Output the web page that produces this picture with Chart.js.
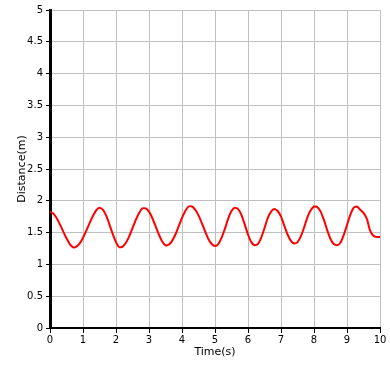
<!DOCTYPE html>
<html>
<head>
<meta charset="utf-8">
<script src="https://cdn.jsdelivr.net/npm/chart.js@4/dist/chart.umd.min.js"></script>
<style>
html,body{margin:0;padding:0;background:#fff;}
#wrap{width:390px;height:368px;}
</style>
</head>
<body>
<div id="wrap"><canvas id="c" width="390" height="368"></canvas></div>
<script>
const timeS = [0,0.1,0.2,0.3,0.4,0.5,0.6,0.7,0.8,0.9,1.0,1.1,1.2,1.3,1.4,1.5,1.6,1.7,1.8,1.9,2.0,2.1,2.2,2.3,2.4,2.5,2.6,2.7,2.8,2.9,3.0,3.1,3.2,3.3,3.4,3.5,3.6,3.7,3.8,3.9,4.0,4.1,4.2,4.3,4.4,4.5,4.6,4.7,4.8,4.9,5.0,5.1,5.2,5.3,5.4,5.5,5.6,5.7,5.8,5.9,6.0,6.1,6.2,6.3,6.4,6.5,6.6,6.7,6.8,6.9,7.0,7.1,7.2,7.3,7.4,7.5,7.6,7.7,7.8,7.9,8.0,8.1,8.2,8.3,8.4,8.5,8.6,8.7,8.8,8.9,9.0,9.1,9.2,9.3,9.4,9.5,9.6,9.7,9.8,9.9,10.0];
const distanceM = [1.83,1.80,1.73,1.63,1.52,1.41,1.32,1.27,1.28,1.33,1.42,1.53,1.65,1.76,1.85,1.89,1.86,1.77,1.63,1.48,1.35,1.27,1.28,1.34,1.44,1.57,1.70,1.81,1.88,1.88,1.83,1.73,1.60,1.47,1.36,1.30,1.31,1.37,1.47,1.60,1.73,1.84,1.91,1.91,1.86,1.77,1.65,1.52,1.40,1.32,1.29,1.32,1.42,1.56,1.72,1.84,1.89,1.87,1.78,1.63,1.47,1.35,1.30,1.32,1.42,1.57,1.73,1.83,1.87,1.84,1.75,1.61,1.47,1.37,1.33,1.35,1.44,1.58,1.74,1.85,1.91,1.90,1.83,1.70,1.54,1.40,1.32,1.30,1.34,1.46,1.62,1.78,1.89,1.91,1.86,1.81,1.72,1.53,1.45,1.43,1.43];
const xTitle = 'Time(s)';
const yTitle = 'Distance(m)';

const pts = timeS.map((t, i) => ({x: t, y: distanceM[i]}));
const tickFont = {family: 'DejaVu Sans', size: 10};
const titleFont = {family: 'DejaVu Sans', size: 11};
const fmt = v => String(Math.round(v * 10) / 10);

new Chart(document.getElementById('c'), {
  type: 'line',
  data: {
    datasets: [{
      data: pts,
      borderColor: '#ff0000',
      borderWidth: 2,
      pointRadius: 0,
      tension: 0.2,
      fill: false
    }]
  },
  options: {
    responsive: false,
    animation: false,
    layout: {padding: {top: 10, right: 10, left: 0, bottom: 0}},
    plugins: {legend: {display: false}, tooltip: {enabled: false}},
    scales: {
      x: {
        type: 'linear',
        min: 0, max: 10,
        afterFit: s => { s.height = 40; },
        ticks: {stepSize: 1, color: '#000', font: tickFont, padding: 1, maxRotation: 0, callback: fmt},
        grid: {color: '#c0c0c0', tickColor: '#000', tickLength: 5, lineWidth: 1},
        border: {color: '#000', width: 2},
        title: {display: true, text: xTitle, color: '#000', font: titleFont, padding: {top: 0, bottom: 9}}
      },
      y: {
        type: 'linear',
        min: 0, max: 5,
        afterFit: s => { s.width = 50; },
        ticks: {stepSize: 0.5, color: '#000', font: tickFont, padding: 3, callback: fmt},
        grid: {color: '#c0c0c0', tickColor: '#000', tickLength: 4, lineWidth: 1},
        border: {color: '#000', width: 3},
        title: {display: true, text: yTitle, color: '#000', font: titleFont, padding: {top: 16, bottom: 0}}
      }
    }
  }
});
</script>
</body>
</html>
